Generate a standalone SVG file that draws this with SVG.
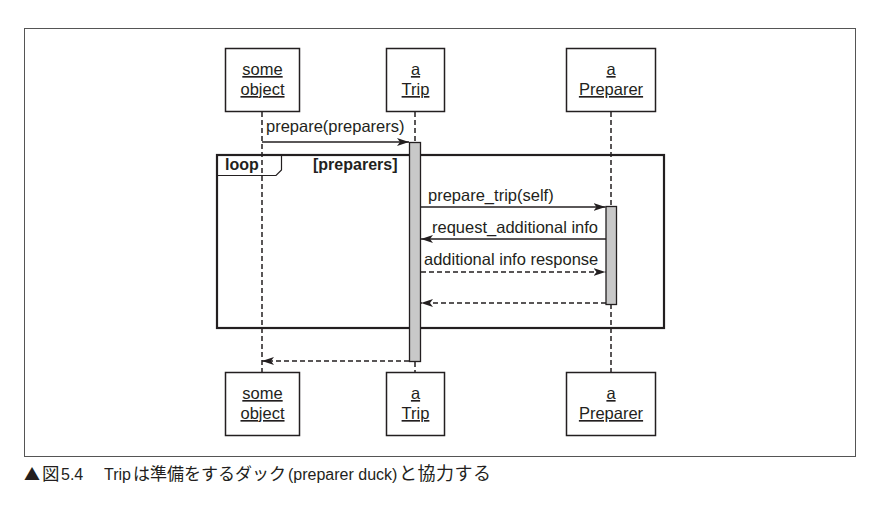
<svg xmlns="http://www.w3.org/2000/svg" width="878" height="508" viewBox="0 0 878 508">
<style>
.t{font-family:"Liberation Sans",Arial,sans-serif;font-size:16.5px;fill:#231f20}
.u{text-decoration:underline}
.b{font-weight:bold;font-size:16px}
.box{fill:#fff;stroke:#231f20;stroke-width:1.5}
.life{stroke:#231f20;stroke-width:1.5;stroke-dasharray:5 3;fill:none}
.act{fill:#c8c8c8;stroke:#231f20;stroke-width:1.3}
.msg{stroke:#231f20;stroke-width:1.5;fill:none;marker-end:url(#ah)}
.ret{stroke:#231f20;stroke-width:1.5;fill:none;stroke-dasharray:5 3;marker-end:url(#ah)}
.cap{font-family:"Liberation Sans","Noto Sans CJK JP",sans-serif;font-size:16px;fill:#231f20}
.jp{font-family:"Noto Sans CJK JP",sans-serif;font-size:17.5px}
</style>
<defs>
<marker id="ah" markerUnits="userSpaceOnUse" markerWidth="13" markerHeight="9" refX="12" refY="4.5" orient="auto">
<path d="M0,0.5 L12,4.5 L0,8.5 L3,4.5 z" fill="#231f20"/>
</marker>
</defs>
<rect x="24.5" y="28.5" width="831" height="428" fill="#fff" stroke="#555" stroke-width="1"/>

<g id="lifelines">
<line class="life" x1="262" y1="112" x2="262" y2="372"/>
<line class="life" x1="415" y1="112" x2="415" y2="142"/>
<line class="life" x1="415" y1="362" x2="415" y2="372"/>
<line class="life" x1="611" y1="112" x2="611" y2="372"/>
</g>

<g id="loop">
<rect x="217" y="155" width="447" height="173" fill="none" stroke="#231f20" stroke-width="2.2"/>
<path d="M217,175.5 L276,175.5 L281.5,170 L281.5,155" fill="none" stroke="#231f20" stroke-width="1.2"/>
<text class="t b" x="225" y="170">loop</text>
<text class="t b" x="313" y="170">[preparers]</text>
</g>

<g id="activations">
<rect class="act" x="409.5" y="142.5" width="11" height="219"/>
<rect class="act" x="606" y="206.5" width="10.5" height="98"/>
</g>

<g id="connectors">
<line class="msg" x1="262" y1="142" x2="409" y2="142"/>
<text class="t" x="266" y="132">prepare(preparers)</text>
<line class="msg" x1="421" y1="207" x2="605.5" y2="207"/>
<text class="t" x="428" y="201">prepare_trip(self)</text>
<line class="msg" x1="606" y1="239" x2="421" y2="239"/>
<text class="t" x="432" y="233">request_additional info</text>
<line class="ret" x1="421" y1="272" x2="605.5" y2="272"/>
<text class="t" x="424" y="265">additional info response</text>
<line class="ret" x1="606" y1="303" x2="421" y2="303"/>
<line class="ret" x1="409" y1="361" x2="262" y2="361"/>
</g>

<g id="someobject-top">
<rect class="box" x="225.5" y="48.5" width="74" height="63"/>
<text class="t u" x="262.5" y="75" text-anchor="middle">some</text>
<text class="t u" x="262.5" y="95" text-anchor="middle">object</text>
</g>
<g id="trip-top">
<rect class="box" x="386.5" y="48.5" width="58" height="63"/>
<text class="t u" x="415.5" y="75" text-anchor="middle">a</text>
<text class="t u" x="415.5" y="95" text-anchor="middle">Trip</text>
</g>
<g id="preparer-top">
<rect class="box" x="566.5" y="48.5" width="89" height="63"/>
<text class="t u" x="611" y="75" text-anchor="middle">a</text>
<text class="t u" x="611" y="95" text-anchor="middle">Preparer</text>
</g>

<g id="someobject-bottom">
<rect class="box" x="225.5" y="372.5" width="74" height="63"/>
<text class="t u" x="262.5" y="399" text-anchor="middle">some</text>
<text class="t u" x="262.5" y="419" text-anchor="middle">object</text>
</g>
<g id="trip-bottom">
<rect class="box" x="386.5" y="372.5" width="58" height="63"/>
<text class="t u" x="415.5" y="399" text-anchor="middle">a</text>
<text class="t u" x="415.5" y="419" text-anchor="middle">Trip</text>
</g>
<g id="preparer-bottom">
<rect class="box" x="566.5" y="372.5" width="89" height="63"/>
<text class="t u" x="611" y="399" text-anchor="middle">a</text>
<text class="t u" x="611" y="419" text-anchor="middle">Preparer</text>
</g>

<text class="cap" y="480"><tspan class="jp" x="24" style="font-size:16px">▲</tspan><tspan class="jp" x="42">図</tspan><tspan x="61">5.4</tspan><tspan class="jp">　</tspan><tspan x="104">Trip</tspan><tspan class="jp" x="133" style="font-size:17px">は準備をするダック</tspan><tspan x="288">(preparer duck)</tspan><tspan class="jp" x="399" style="font-size:18px;letter-spacing:0.5px">と協力する</tspan></text>
</svg>
